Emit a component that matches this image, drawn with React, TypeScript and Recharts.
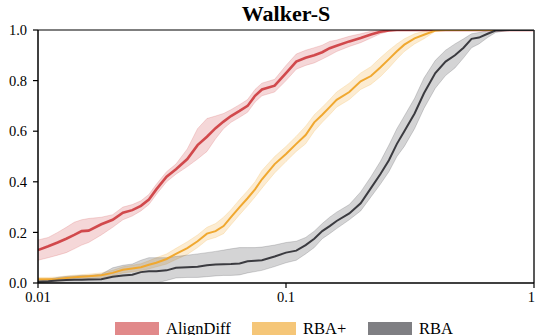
import React from "react";
import {
  ComposedChart,
  Area,
  Line,
  XAxis,
  YAxis,
  Legend,
  ReferenceLine,
} from "recharts";

const xs = [
  0.01, 0.011, 0.012, 0.013, 0.014, 0.015, 0.016, 0.018, 0.02, 0.022, 0.024,
  0.026, 0.028, 0.03, 0.033, 0.036, 0.04, 0.044, 0.048, 0.052, 0.056, 0.06,
  0.065, 0.07, 0.075, 0.08, 0.09, 0.1, 0.11, 0.12, 0.13, 0.14, 0.15, 0.16,
  0.18, 0.2, 0.22, 0.24, 0.26, 0.28, 0.3, 0.33, 0.36, 0.4, 0.44, 0.48, 0.52,
  0.56, 0.6, 0.65, 0.7, 0.8, 0.9, 1.0,
];

const alignDiffMean = [
  0.13, 0.145, 0.16, 0.175, 0.19, 0.205, 0.207, 0.232, 0.25, 0.278, 0.288,
  0.305, 0.33, 0.37, 0.42, 0.45, 0.49, 0.545, 0.578, 0.612, 0.638, 0.66, 0.68,
  0.7, 0.74, 0.765, 0.78, 0.83, 0.875, 0.89, 0.9, 0.912, 0.928, 0.938, 0.955,
  0.968, 0.982, 0.993, 0.998, 1, 1, 1, 1, 1, 1, 1, 1, 1, 1, 1, 1, 1, 1, 1,
];
const alignDiffLow = [
  0.09, 0.1, 0.11, 0.12, 0.135, 0.15, 0.16, 0.19, 0.22, 0.25, 0.265, 0.285,
  0.31, 0.35, 0.4, 0.43, 0.46, 0.49, 0.52, 0.57, 0.61, 0.635, 0.655, 0.675,
  0.715, 0.74, 0.755, 0.8, 0.845, 0.86, 0.87, 0.885, 0.9, 0.915, 0.935, 0.95,
  0.968, 0.985, 0.995, 1, 1, 1, 1, 1, 1, 1, 1, 1, 1, 1, 1, 1, 1, 1,
];
const alignDiffHigh = [
  0.17, 0.18, 0.2, 0.22, 0.24, 0.25, 0.255, 0.26, 0.27, 0.3, 0.31, 0.325,
  0.35, 0.39, 0.44, 0.47, 0.53, 0.61, 0.65, 0.66, 0.67, 0.685, 0.705, 0.725,
  0.765, 0.79, 0.805, 0.86, 0.905, 0.92, 0.93, 0.94, 0.955, 0.96, 0.975,
  0.985, 0.995, 1, 1, 1, 1, 1, 1, 1, 1, 1, 1, 1, 1, 1, 1, 1, 1, 1,
];

const rbaPlusMean = [
  0.015, 0.015, 0.016, 0.02, 0.023, 0.025, 0.027, 0.031, 0.04, 0.052, 0.057,
  0.062, 0.072, 0.08, 0.095, 0.115, 0.138, 0.165, 0.195, 0.205, 0.225, 0.26,
  0.3, 0.335, 0.37, 0.41, 0.47, 0.51, 0.55, 0.585, 0.635, 0.665, 0.695, 0.724,
  0.755, 0.797, 0.818, 0.852, 0.885, 0.916, 0.942, 0.967, 0.981, 0.998, 1, 1,
  1, 1, 1, 1, 1, 1, 1, 1,
];
const rbaPlusLow = [
  0.008, 0.008, 0.008, 0.01, 0.013, 0.015, 0.017, 0.021, 0.028, 0.04, 0.044,
  0.048, 0.056, 0.064, 0.075, 0.093, 0.113, 0.14, 0.17, 0.18, 0.195, 0.23,
  0.27, 0.305, 0.34, 0.375, 0.435, 0.48, 0.52, 0.55, 0.6, 0.635, 0.665, 0.695,
  0.725, 0.765, 0.785, 0.815, 0.85, 0.885, 0.915, 0.945, 0.965, 0.995, 1, 1,
  1, 1, 1, 1, 1, 1, 1, 1,
];
const rbaPlusHigh = [
  0.022, 0.022, 0.024, 0.028, 0.031, 0.033, 0.035, 0.04, 0.05, 0.064, 0.07,
  0.076, 0.088, 0.1, 0.115, 0.137, 0.163, 0.19, 0.22, 0.235, 0.26, 0.29, 0.33,
  0.365, 0.4, 0.445, 0.5, 0.54, 0.58, 0.62, 0.665, 0.695, 0.725, 0.755, 0.79,
  0.83, 0.855, 0.89, 0.92, 0.945, 0.965, 0.985, 0.995, 1, 1, 1, 1, 1, 1, 1, 1,
  1, 1, 1,
];

const rbaMean = [
  0.005, 0.007, 0.01, 0.012, 0.013, 0.013, 0.014, 0.015, 0.025, 0.03, 0.033,
  0.043, 0.046, 0.046, 0.05, 0.06, 0.062, 0.064, 0.07, 0.073, 0.074, 0.075,
  0.077, 0.086, 0.088, 0.09, 0.105, 0.12, 0.128, 0.15, 0.175, 0.205, 0.225,
  0.245, 0.275, 0.315, 0.375, 0.43, 0.485, 0.55, 0.6, 0.67, 0.75, 0.83, 0.875,
  0.9, 0.93, 0.965, 0.97, 0.985, 0.998, 1, 1, 1,
];
const rbaLow = [
  0, 0, 0, 0, 0, 0, 0, 0, 0, 0, 0, 0, 0, 0, 0.01, 0.02, 0.022, 0.022, 0.025,
  0.028, 0.03, 0.03, 0.032, 0.04, 0.045, 0.05, 0.065, 0.08, 0.09, 0.115, 0.14,
  0.175, 0.195, 0.215, 0.25, 0.285, 0.34, 0.39, 0.44, 0.5, 0.54, 0.61, 0.69,
  0.77, 0.82, 0.85, 0.89, 0.93, 0.945, 0.97, 0.99, 1, 1, 1,
];
const rbaHigh = [
  0.012, 0.015, 0.022, 0.026, 0.028, 0.03, 0.03, 0.035, 0.06, 0.07, 0.075,
  0.09, 0.1, 0.1, 0.1, 0.105, 0.11, 0.115, 0.12, 0.125, 0.13, 0.135, 0.14,
  0.14, 0.14, 0.142, 0.15, 0.16, 0.165, 0.18, 0.205, 0.235, 0.26, 0.28, 0.31,
  0.36, 0.42, 0.48, 0.545, 0.61, 0.66, 0.73, 0.81, 0.88, 0.92, 0.945, 0.965,
  0.985, 0.99, 0.998, 1, 1, 1, 1,
];

const seriesNames = ["AlignDiff", "RBA+", "RBA"];
const seriesColors = ["#d1494c", "#f0a830", "#3b3b40"];
const xTicks = [0.01, 0.1, 1];
const yTicks = [0, 0.2, 0.4, 0.6, 0.8, 1.0];

const data = xs.map((x, i) => ({
  x,
  ad: alignDiffMean[i],
  adBand: [alignDiffLow[i], alignDiffHigh[i]],
  rp: rbaPlusMean[i],
  rpBand: [rbaPlusLow[i], rbaPlusHigh[i]],
  rb: rbaMean[i],
  rbBand: [rbaLow[i], rbaHigh[i]],
}));

const FONT = "'Liberation Serif', serif";
const legendLefts = [115, 252, 368];

const renderLegend = () => (
  <div
    style={{
      position: "relative",
      width: 534,
      height: 17,
      fontFamily: FONT,
      fontSize: 16.5,
      color: "#000",
    }}
  >
    {seriesNames.map((n, i) => (
      <div
        key={n}
        style={{
          position: "absolute",
          left: legendLefts[i],
          top: 0,
          display: "flex",
          alignItems: "flex-start",
          whiteSpace: "nowrap",
        }}
      >
        <div
          style={{
            width: 44,
            height: 14,
            marginTop: 4,
            background: seriesColors[i],
            opacity: 0.65,
          }}
        />
        <span style={{ marginLeft: 7, lineHeight: "17px", marginTop: 2 }}>{n}</span>
      </div>
    ))}
  </div>
);

export default function App() {
  const tickStyle = { fontFamily: FONT, fontSize: 14.5, fill: "#000" };
  return (
    <div style={{ position: "absolute", left: 0, top: 0, width: 535, height: 335, overflow: "hidden" }}>
      <div
        style={{
          position: "absolute",
          left: 38,
          width: 496,
          top: 0,
          textAlign: "center",
          fontFamily: FONT,
          fontWeight: "bold",
          fontSize: 22,
          lineHeight: "28px",
          color: "#000",
        }}
      >
        Walker-S
      </div>
      <ComposedChart
        width={535}
        height={335}
        data={data}
        margin={{ top: 30, right: 1, left: 0, bottom: 0 }}
      >
        <XAxis
          dataKey="x"
          type="number"
          scale="log"
          domain={[0.01, 1]}
          ticks={xTicks}
          allowDataOverflow
          height={35}
          tickSize={5}
          tickMargin={4}
          tick={tickStyle}
          tickFormatter={(v: number) => String(v)}
          axisLine={{ stroke: "#000", strokeWidth: 1.5 }}
          tickLine={{ stroke: "#000", strokeWidth: 1.2 }}
        />
        <YAxis
          type="number"
          domain={[0, 1]}
          ticks={yTicks}
          allowDataOverflow
          width={38}
          tickSize={5}
          tickMargin={6}
          tick={tickStyle}
          tickFormatter={(v: number) => v.toFixed(1)}
          axisLine={{ stroke: "#000", strokeWidth: 1.5 }}
          tickLine={{ stroke: "#000", strokeWidth: 1.2 }}
        />
        <Area
          dataKey="adBand"
          type="linear"
          fill={seriesColors[0]}
          fillOpacity={0.22}
          stroke={seriesColors[0]}
          strokeOpacity={0.2}
          strokeWidth={1}
          isAnimationActive={false}
          legendType="none"
        />
        <Area
          dataKey="rpBand"
          type="linear"
          fill={seriesColors[1]}
          fillOpacity={0.22}
          stroke={seriesColors[1]}
          strokeOpacity={0.2}
          strokeWidth={1}
          isAnimationActive={false}
          legendType="none"
        />
        <Area
          dataKey="rbBand"
          type="linear"
          fill={seriesColors[2]}
          fillOpacity={0.22}
          stroke={seriesColors[2]}
          strokeOpacity={0.2}
          strokeWidth={1}
          isAnimationActive={false}
          legendType="none"
        />
        <Line
          dataKey="ad"
          type="linear"
          stroke={seriesColors[0]}
          strokeWidth={2.6}
          dot={false}
          isAnimationActive={false}
        />
        <Line
          dataKey="rp"
          type="linear"
          stroke={seriesColors[1]}
          strokeWidth={2}
          dot={false}
          isAnimationActive={false}
        />
        <Line
          dataKey="rb"
          type="linear"
          stroke={seriesColors[2]}
          strokeWidth={2}
          dot={false}
          isAnimationActive={false}
        />
        <ReferenceLine y={1} stroke="#000" strokeWidth={1.2} />
        <ReferenceLine x={1} stroke="#222" strokeWidth={1.5} />
        <Legend verticalAlign="bottom" content={renderLegend} />
      </ComposedChart>
    </div>
  );
}
